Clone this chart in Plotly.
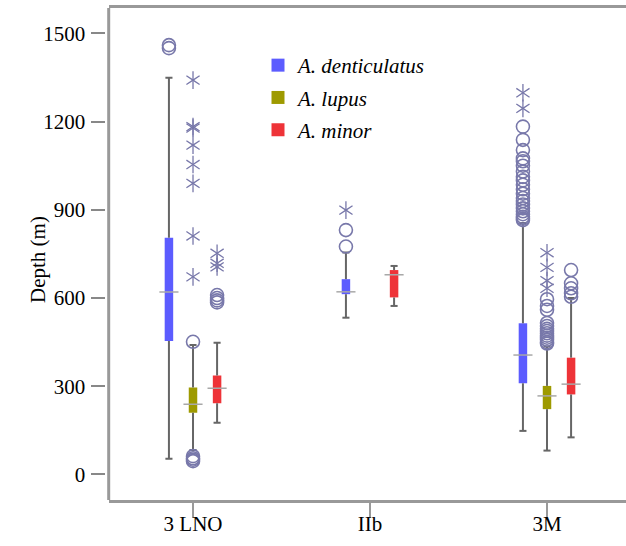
import plotly.graph_objects as go

# ---------------- data ----------------
groups = ["3 LNO", "IIb", "3M"]
species = ["A. denticulatus", "A. lupus", "A. minor"]
colors = ["#5c5cff", "#9e9a00", "#ee3338"]

# five-number summaries per species (one value per group; None = absent)
den_low = [53, 533, 148]
den_q1 = [454, 613, 310]
den_med = [620, 621, 406]
den_q3 = [805, 664, 514]
den_high = [1349, 755, 855]

lup_low = [83, None, 81]
lup_q1 = [210, None, 222]
lup_med = [239, None, 267]
lup_q3 = [296, None, 301]
lup_high = [440, None, 435]

min_low = [176, 573, 126]
min_q1 = [242, 602, 272]
min_med = [293, 679, 307]
min_q3 = [336, 695, 397]
min_high = [448, 709, 600]

# outliers (circles) and extreme values (stars)
den_out = [[1450, 1460], [775, 831],
           [1183, 1138, 1103, 1075, 1065, 1050, 1030, 1012, 1000, 985, 970,
            955, 940, 930, 918, 905, 895, 885, 876, 870, 865]]
den_ext = [[], [899], [1298, 1245]]
lup_out = [[451, 62, 55, 50, 45], [],
           [596, 573, 560, 515, 505, 495, 488, 480, 472, 465, 458, 450, 445]]
lup_ext = [[1341, 1183, 1178, 1120, 1054, 990, 811, 672], [], [754, 704, 659, 633]]
min_out = [[610, 600, 592, 585], [], [695, 650, 633, 616, 604]]
min_ext = [[752, 718, 706], [], []]

stats = [
    (den_low, den_q1, den_med, den_q3, den_high, den_out, den_ext),
    (lup_low, lup_q1, lup_med, lup_q3, lup_high, lup_out, lup_ext),
    (min_low, min_q1, min_med, min_q3, min_high, min_out, min_ext),
]

# ---------------- layout constants ----------------
W, H = 626, 546
PL, PR, PT, PB = 108.7, 626, 8, 500  # plot area in px
offset = 0.136
box_w = 0.048
med_w = 0.108
cap_w = 0.04
whisk_col = "#666666"
med_col = "#a8a8a8"
pt_col = "#7878aa"
font_fam = "Liberation Serif, Times New Roman, serif"

fig = go.Figure()

for k, (low, q1, med, q3, high, outs, exts) in enumerate(stats):
    pos = [i + (k - 1) * offset for i in range(len(groups))]
    xs_b, base_b, h_b = [], [], []
    wx, wy, mx, my = [], [], [], []
    ox, oy, ex, ey = [], [], [], []
    for i, p in enumerate(pos):
        if q1[i] is None:
            continue
        xs_b.append(p)
        base_b.append(q1[i])
        h_b.append(q3[i] - q1[i])
        wx += [p, p, None, p, p, None,
               p - cap_w / 2, p + cap_w / 2, None, p - cap_w / 2, p + cap_w / 2, None]
        wy += [low[i], q1[i], None, q3[i], high[i], None,
               low[i], low[i], None, high[i], high[i], None]
        mx += [p - med_w / 2, p + med_w / 2, None]
        my += [med[i], med[i], None]
    for i, p in enumerate(pos):
        ox += [p] * len(outs[i])
        oy += outs[i]
        ex += [p] * len(exts[i])
        ey += exts[i]

    fig.add_trace(go.Scatter(x=wx, y=wy, mode="lines",
                             line=dict(color=whisk_col, width=2),
                             showlegend=False, hoverinfo="skip"))
    fig.add_trace(go.Bar(x=xs_b, y=h_b, base=base_b, width=box_w,
                         marker=dict(color=colors[k], line=dict(width=0)),
                         showlegend=False))
    fig.add_trace(go.Scatter(x=mx, y=my, mode="lines",
                             line=dict(color=med_col, width=1.5),
                             showlegend=False, hoverinfo="skip"))
    fig.add_trace(go.Scatter(x=ox, y=oy, mode="markers",
                             marker=dict(symbol="circle-open", size=13,
                                         color=pt_col, line=dict(width=1.6, color=pt_col)),
                             showlegend=False))
    for sym in ["y-up-open", "y-down-open"]:
        fig.add_trace(go.Scatter(x=ex, y=ey, mode="markers",
                                 marker=dict(symbol=sym, size=11,
                                             color=pt_col, line=dict(width=1.3, color=pt_col)),
                                 showlegend=False))

# legend entries
for k, name in enumerate(species):
    fig.add_trace(go.Scatter(x=[None], y=[None], mode="markers",
                             name="<i>%s</i>" % name, legendgroup=name,
                             marker=dict(symbol="square", size=13, color=colors[k])))

# invisible trace to carry the category-label axis
fig.add_trace(go.Scatter(x=[None], y=[None], xaxis="x2", yaxis="y",
                         mode="markers", showlegend=False, hoverinfo="skip"))

x0 = -0.4763
x1 = x0 + (PR - PL) / 177.0
ytop = (474.4 - PT) / 0.294
ybot = (474.4 - PB) / 0.294

fig.update_layout(
    width=W, height=H,
    margin=dict(l=0, r=0, t=0, b=0),
    paper_bgcolor="white", plot_bgcolor="white",
    barmode="overlay",
    font=dict(family=font_fam, size=21, color="black"),
    showlegend=True,
    legend=dict(x=(258) / W, y=1 - 45 / H, xanchor="left", yanchor="top",
                bgcolor="rgba(0,0,0,0)", font=dict(size=21, family=font_fam),
                itemsizing="trace", tracegroupgap=2),
    xaxis=dict(domain=[PL / W, 1], range=[x0, x1], tickvals=list(range(len(groups))),
               showticklabels=False, ticks="outside", ticklen=15, tickwidth=1.5,
               tickcolor="#999999", showline=True, linecolor="#999999", linewidth=3,
               mirror=True, showgrid=False, zeroline=False, automargin=False),
    xaxis2=dict(domain=[PL / W, 1], range=[x0, x1], overlaying="x", anchor="free",
                side="bottom", position=(H - 509) / H,
                tickvals=list(range(len(groups))), ticktext=groups, ticks="",
                showline=False, showgrid=False, zeroline=False, automargin=False),
    yaxis=dict(domain=[(H - PB) / H, (H - PT) / H], range=[ybot, ytop],
               anchor="free", position=104.5 / W,
               tickvals=[0, 300, 600, 900, 1200, 1500], ticks="outside", ticklen=14,
               tickwidth=1.5, tickcolor="#888888", showline=False, showgrid=False,
               zeroline=False, automargin=False, ticklabelstandoff=1),
    shapes=[dict(type="line", xref="paper", yref="paper",
                 x0=PL / W, x1=PL / W, y0=(H - PB) / H, y1=(H - PT) / H,
                 line=dict(color="#999999", width=3))],
    annotations=[dict(text="Depth (m)", x=24 / W, y=1 - 260 / H, xref="paper", yref="paper",
                      textangle=-90, showarrow=False, font=dict(size=21, family=font_fam))],
)

fig.write_html("out.html")
